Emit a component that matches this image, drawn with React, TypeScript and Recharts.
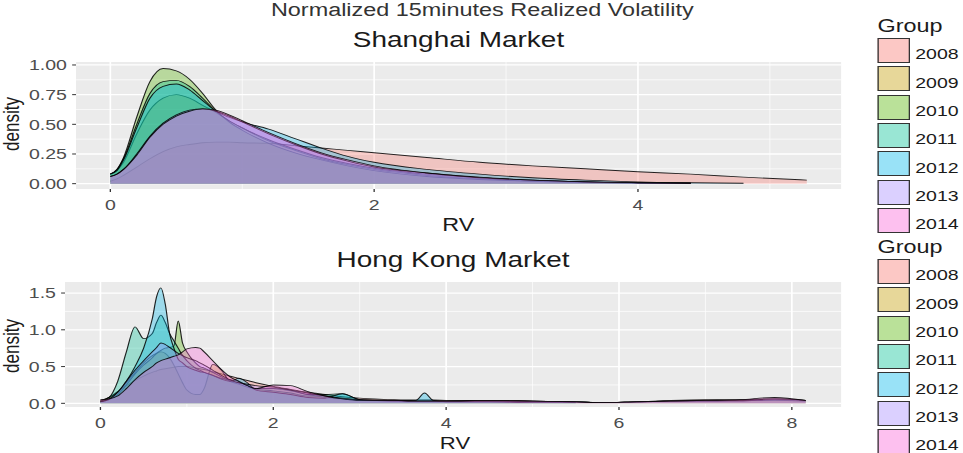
import React from 'react';
import { AreaChart, Area, XAxis, YAxis, CartesianGrid } from 'recharts';

// the reference is a ggplot image stretched sideways, so the whole figure is drawn narrow and scaled
const S = 1.3;
const W0 = 963 / S;

const GROUPS = ['2008', '2009', '2010', '2011', '2012', '2013', '2014'];
const COLORS = ['#F8766D', '#C49A00', '#53B400', '#00C094', '#00B6EB', '#A58AFF', '#FB61D7'];

// Shanghai market densities
const SH_RV = [0, 0.05, 0.1, 0.2, 0.3, 0.4, 0.5, 0.6, 0.7, 0.8, 0.9, 1.0, 1.2, 1.4, 1.6, 1.8, 2.0, 2.4, 2.8, 3.2, 3.6, 4.0, 4.4, 4.8, 5.28];
const SH_2008 = [0.02, 0.04, 0.07, 0.14, 0.21, 0.27, 0.31, 0.33, 0.345, 0.35, 0.35, 0.345, 0.34, 0.32, 0.3, 0.28, 0.26, 0.22, 0.18, 0.15, 0.125, 0.1, 0.08, 0.055, 0.03];
const SH_2009 = [0.08, 0.11, 0.18, 0.42, 0.62, 0.72, 0.75, 0.72, 0.66, 0.6, 0.53, 0.47, 0.36, 0.28, 0.21, 0.16, 0.12, 0.07, 0.04, 0.02, 0.012, 0.006, 0.003, null, null];
const SH_2010 = [0.08, 0.12, 0.22, 0.56, 0.86, 0.97, 0.95, 0.88, 0.76, 0.62, 0.52, 0.45, 0.34, 0.26, 0.2, 0.15, 0.11, 0.06, 0.035, 0.02, 0.01, 0.005, 0.002, null, null];
const SH_2011 = [0.08, 0.12, 0.21, 0.5, 0.76, 0.86, 0.87, 0.82, 0.72, 0.61, 0.53, 0.47, 0.37, 0.29, 0.22, 0.17, 0.13, 0.08, 0.05, 0.03, 0.015, 0.008, 0.004, null, null];
const SH_2012 = [0.08, 0.11, 0.2, 0.47, 0.72, 0.82, 0.84, 0.79, 0.7, 0.61, 0.56, 0.52, 0.46, 0.38, 0.3, 0.23, 0.18, 0.12, 0.08, 0.05, 0.03, 0.015, 0.008, 0.004, null];
const SH_2013 = [0.06, 0.08, 0.12, 0.25, 0.4, 0.51, 0.58, 0.62, 0.63, 0.61, 0.57, 0.52, 0.42, 0.33, 0.25, 0.19, 0.14, 0.09, 0.05, 0.03, 0.015, 0.008, 0.004, null, null];
const SH_2014 = [0.06, 0.08, 0.12, 0.24, 0.39, 0.5, 0.57, 0.61, 0.63, 0.62, 0.58, 0.53, 0.43, 0.34, 0.26, 0.2, 0.15, 0.09, 0.055, 0.03, 0.016, 0.008, 0.004, null, null];

// Hong Kong market densities
const HK_RV = [0, 0.1, 0.2, 0.3, 0.4, 0.5, 0.6, 0.65, 0.7, 0.75, 0.8, 0.85, 0.9, 0.95, 1.0, 1.1, 1.15, 1.2, 1.3, 1.4, 1.5, 1.6, 1.7, 1.8, 2.0, 2.2, 2.4, 2.6, 2.8, 3.0, 3.4, 3.65, 3.75, 3.85, 4.0, 4.5, 5.0, 5.5, 5.8, 6.2, 6.6, 7.0, 7.4, 7.8, 8.16];
const HK_2008 = [0.03, 0.08, 0.16, 0.24, 0.31, 0.37, 0.42, 0.44, 0.46, 0.47, 0.48, 0.49, 0.5, 0.5, 0.5, 0.48, 0.47, 0.46, 0.43, 0.4, 0.37, 0.34, 0.31, 0.28, 0.23, 0.19, 0.15, 0.12, 0.09, 0.07, 0.05, 0.045, 0.045, 0.045, 0.04, 0.035, 0.03, 0.02, 0.01, 0.02, 0.04, 0.05, 0.05, 0.06, 0.04];
const HK_2009 = [0.04, 0.08, 0.15, 0.28, 0.42, 0.55, 0.65, 0.68, 0.7, 0.68, 0.62, 0.52, 0.4, 0.28, 0.18, 0.12, 0.12, 0.2, 0.53, 0.45, 0.3, 0.28, 0.24, 0.2, 0.2, 0.17, 0.12, 0.08, 0.06, 0.04, 0.04, 0.03, 0.03, 0.03, 0.03, 0.04, 0.03, 0.02, 0.01, 0.02, 0.03, 0.03, 0.04, 0.04, 0.03];
const HK_2010 = [0.02, 0.05, 0.12, 0.25, 0.4, 0.52, 0.62, 0.68, 0.72, 0.75, 0.76, 0.78, 1.12, 0.82, 0.7, 0.55, 0.5, 0.48, 0.42, 0.36, 0.3, 0.26, 0.22, 0.19, 0.17, 0.14, 0.1, 0.1, 0.06, 0.04, 0.03, 0.02, 0.02, 0.02, 0.02, 0.02, 0.02, 0.01, null, null, null, null, null, null, null];
const HK_2011 = [0.03, 0.08, 0.3, 0.7, 1.04, 0.88, 0.95, 1.1, 1.2, 1.1, 0.95, 0.85, 0.75, 0.65, 0.58, 0.48, 0.45, 0.42, 0.38, 0.34, 0.32, 0.3, 0.24, 0.2, 0.2, 0.18, 0.12, 0.12, 0.13, 0.05, 0.04, 0.03, 0.03, 0.03, 0.03, 0.03, 0.02, 0.02, 0.01, 0.02, 0.03, 0.03, 0.03, 0.05, 0.04];
const HK_2012 = [0.02, 0.05, 0.15, 0.3, 0.5, 0.75, 1.15, 1.45, 1.57, 1.35, 0.95, 0.75, 0.6, 0.55, 0.5, 0.45, 0.43, 0.42, 0.38, 0.33, 0.3, 0.34, 0.28, 0.18, 0.15, 0.12, 0.08, 0.07, 0.13, 0.05, 0.03, 0.04, 0.14, 0.04, 0.02, 0.02, 0.01, 0.01, null, null, null, null, null, null, null];
const HK_2013 = [0.02, 0.06, 0.15, 0.3, 0.45, 0.58, 0.7, 0.76, 0.82, 0.8, 0.76, 0.72, 0.68, 0.65, 0.62, 0.58, 0.55, 0.52, 0.45, 0.38, 0.32, 0.28, 0.26, 0.24, 0.22, 0.18, 0.14, 0.1, 0.07, 0.05, 0.04, 0.03, 0.03, 0.03, 0.03, 0.03, 0.03, 0.02, 0.01, 0.02, 0.03, 0.04, 0.04, 0.06, 0.04];
const HK_2014 = [0.05, 0.06, 0.1, 0.2, 0.32, 0.42, 0.5, 0.55, 0.58, 0.6, 0.62, 0.64, 0.66, 0.7, 0.74, 0.76, 0.75, 0.7, 0.58, 0.46, 0.36, 0.3, 0.24, 0.2, 0.25, 0.24, 0.16, 0.1, 0.06, 0.04, 0.04, 0.03, 0.03, 0.03, 0.03, 0.04, 0.03, 0.02, 0.01, 0.02, 0.03, 0.04, 0.05, 0.08, 0.04];

const SH_X_TICKS = [0, 2, 4];
const SH_Y_TICKS = [0, 0.25, 0.5, 0.75, 1.0];
const HK_X_TICKS = [0, 2, 4, 6, 8];
const HK_Y_TICKS = [0, 0.5, 1.0, 1.5];

const buildRows = (rv: number[], series: (number | null)[][]) =>
  rv.map((x, i) => {
    const row: Record<string, number | null> = { rv: x };
    GROUPS.forEach((g, k) => {
      row[g] = series[k][i];
    });
    return row;
  });

const shRows = buildRows(SH_RV, [SH_2008, SH_2009, SH_2010, SH_2011, SH_2012, SH_2013, SH_2014]);
const hkRows = buildRows(HK_RV, [HK_2008, HK_2009, HK_2010, HK_2011, HK_2012, HK_2013, HK_2014]);

const FONT = '"Liberation Sans", Arial, sans-serif';
const tickStyle = { fill: '#4D4D4D', fontSize: 15, fontFamily: FONT };

const Label = ({ x, base, size, children, center = false, color = '#1A1A1A' }: any) => (
  <div
    style={{
      position: 'absolute',
      left: x,
      top: base - 0.8465 * size,
      fontSize: size,
      lineHeight: 1,
      whiteSpace: 'nowrap',
      color,
      transform: center ? 'translateX(-50%)' : undefined,
    }}
  >
    {children}
  </div>
);

const YLabel = ({ cy }: { cy: number }) => (
  <div
    style={{
      position: 'absolute',
      left: 9,
      top: cy,
      fontSize: 17,
      lineHeight: 1,
      color: '#1A1A1A',
      transform: 'translate(-50%, -50%) rotate(-90deg)',
      whiteSpace: 'nowrap',
    }}
  >
    density
  </div>
);

const Legend = ({ top, clip }: { top: number; clip: number }) => (
  <div style={{ position: 'absolute', left: 670, top, width: 70, height: clip, overflow: 'hidden' }}>
    <Label x={5} base={32} size={18}>Group</Label>
    {GROUPS.map((g, i) => (
      <React.Fragment key={g}>
        <div
          style={{
            position: 'absolute',
            left: 5,
            top: 38 + i * 28.3,
            width: 23,
            height: 23,
            border: '1.5px solid #333',
            background: COLORS[i] + '66',
          }}
        />
        <Label x={34} base={38 + i * 28.3 + 21} size={15}>{g}</Label>
      </React.Fragment>
    ))}
  </div>
);

const Panel = ({ rows, xDomain, yDomain, xTicks, yTicks, xMinor, yMinor, digits, width, height, margin }: any) => (
  <AreaChart width={width} height={height} data={rows} margin={margin}>
    <CartesianGrid fill="#EBEBEB" stroke="#FFFFFF" strokeWidth={0.6} horizontalValues={yMinor} verticalValues={xMinor} />
    <CartesianGrid stroke="#FFFFFF" strokeWidth={1.3} horizontalValues={yTicks} verticalValues={xTicks} />
    <XAxis
      dataKey="rv"
      type="number"
      domain={xDomain}
      ticks={xTicks}
      allowDataOverflow
      axisLine={false}
      tickLine={{ stroke: '#333' }}
      tickSize={3}
      tickMargin={7}
      height={30}
      tick={tickStyle}
    />
    <YAxis
      type="number"
      domain={yDomain}
      ticks={yTicks}
      allowDataOverflow
      axisLine={false}
      tickLine={{ stroke: '#333' }}
      tickSize={3}
      tickMargin={4}
      width={40}
      tick={tickStyle}
      tickFormatter={(v: number) => v.toFixed(digits)}
    />
    {GROUPS.map((g, i) => (
      <Area
        key={g}
        dataKey={g}
        type="monotone"
        fill={COLORS[i]}
        fillOpacity={0.33}
        stroke="#000"
        strokeWidth={0.9}
        strokeOpacity={0.85}
        dot={false}
        activeDot={false}
        isAnimationActive={false}
      />
    ))}
  </AreaChart>
);

export default function App() {
  return (
    <div style={{ position: 'absolute', left: 0, top: 0, width: 963, height: 453, overflow: 'hidden', background: '#fff' }}>
      <div
        style={{
          position: 'absolute',
          left: 0,
          top: 0,
          width: W0,
          height: 453,
          transform: `scaleX(${S})`,
          transformOrigin: '0 0',
          fontFamily: FONT,
        }}
      >
        <Label x={371} base={16} size={18} center color="#333">Normalized 15minutes Realized Volatility</Label>
        <Label x={352.7} base={48} size={21.5} center>Shanghai Market</Label>
        <Label x={352.5} base={231} size={18} center>RV</Label>
        <YLabel cy={124} />
        <div style={{ position: 'absolute', left: 0, top: 0 }}>
          <Panel
            rows={shRows}
            xDomain={[-0.26, 5.54]}
            yDomain={[-0.045, 1.025]}
            xTicks={SH_X_TICKS}
            yTicks={SH_Y_TICKS}
            xMinor={[1, 3, 5]}
            yMinor={[0.125, 0.375, 0.625, 0.875]}
            digits={2}
            width={660}
            height={240}
            margin={{ top: 62, right: 13, bottom: 21, left: 18.5 }}
          />
        </div>
        <Legend top={0} clip={234} />

        <Label x={348.5} base={268} size={21.5} center>Hong Kong Market</Label>
        <Label x={350} base={449} size={17} center>RV</Label>
        <YLabel cy={346} />
        <div style={{ position: 'absolute', left: 0, top: 230 }}>
          <Panel
            rows={hkRows}
            xDomain={[-0.41, 8.57]}
            yDomain={[-0.05, 1.65]}
            xTicks={HK_X_TICKS}
            yTicks={HK_Y_TICKS}
            xMinor={[1, 3, 5, 7]}
            yMinor={[0.25, 0.75, 1.25]}
            digits={1}
            width={660}
            height={223}
            margin={{ top: 52, right: 13, bottom: 16, left: 10 }}
          />
        </div>
        <Legend top={221} clip={232} />
      </div>
    </div>
  );
}
